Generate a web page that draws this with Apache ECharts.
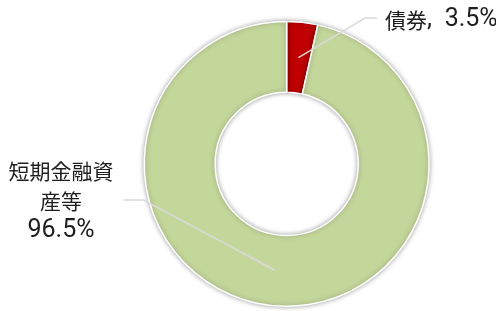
<!DOCTYPE html>
<html>
<head>
<meta charset="utf-8">
<script src="https://cdn.jsdelivr.net/npm/echarts@6/dist/echarts.min.js"></script>
<style>
  html, body { margin: 0; padding: 0; background: #fff; }
  #chart { width: 496px; height: 311px; }
</style>
</head>
<body>
<div id="chart"></div>
<script>
const Names = ['債券', '短期金融資産等'];
const Values = [3.5, 96.5];
const Colors = ['#C00000', '#C4D79B'];

const CjkFont = '"Noto Sans CJK JP", sans-serif';
const NumFont = 'Roboto, "Liberation Sans", sans-serif';
const Center = ['57.8%', '52.7%'];

// ラベルの置き場所 (px)
const LabelPos = [
  { x: 385, y: 20, align: 'left' },
  { x: 61, y: 201, align: 'center' },
];

// 長い項目名は5文字ごとに折り返す
function wrapName(name, n) {
  const lines = [];
  for (let i = 0; i < name.length; i += n) lines.push('{t|' + name.slice(i, i + n) + '}');
  return lines.join('\n');
}

const myChart = echarts.init(document.getElementById('chart'));

myChart.setOption({
  animation: false,
  series: [
    {
      type: 'pie',
      center: Center,
      radius: ['46%', '91.6%'],
      startAngle: 90,
      silent: true,
      label: { show: false },
      labelLine: { show: false },
      itemStyle: {
        borderColor: '#fff',
        borderWidth: 1.5,
        shadowBlur: 5,
        shadowColor: 'rgba(0,0,0,0.35)',
      },
      data: Names.map((name, i) => ({ name, value: Values[i], itemStyle: { color: Colors[i] } })),
    },
    {
      // 引き出し線をリングの真ん中から出すための透明な系列
      type: 'pie',
      center: Center,
      radius: ['0%', '68.8%'],
      startAngle: 90,
      silent: true,
      z: 3,
      itemStyle: { color: 'rgba(0,0,0,0)' },
      label: {
        show: true,
        position: 'outside',
        color: '#1e1e1e',
        formatter: (p) => p.dataIndex === 0
          ? '{t|' + p.name + '}{n|,\u2002' + p.value + '%}'
          : wrapName(p.name, 5) + '\n{n|' + p.value + '%}',
        rich: {
          t: { fontFamily: CjkFont, fontSize: 21, lineHeight: 30, color: '#1e1e1e' },
          n: { fontFamily: NumFont, fontSize: 25, lineHeight: 30, color: '#1e1e1e' },
        },
      },
      labelLine: {
        show: true,
        length: 10,
        length2: 10,
        lineStyle: { color: '#D9D9D9', width: 1.5 },
      },
      labelLayout: (params) => {
        const pos = LabelPos[params.dataIndex];
        const w = params.labelRect.width;
        const start = params.labelLinePoints ? params.labelLinePoints[0] : [0, 0];
        let end;
        let elbow;
        if (pos.align === 'left') {
          end = [pos.x - 8, pos.y - 2];
          elbow = [pos.x - 20, pos.y - 2];
        } else {
          end = [pos.x + w / 2 + 10, pos.y - 1];
          elbow = [pos.x + w / 2 + 30, pos.y - 1];
        }
        return {
          x: pos.x,
          y: pos.y,
          align: pos.align,
          verticalAlign: 'middle',
          labelLinePoints: [start, elbow, end],
        };
      },
      data: Names.map((name, i) => ({ name, value: Values[i] })),
    },
  ],
});
</script>
</body>
</html>
